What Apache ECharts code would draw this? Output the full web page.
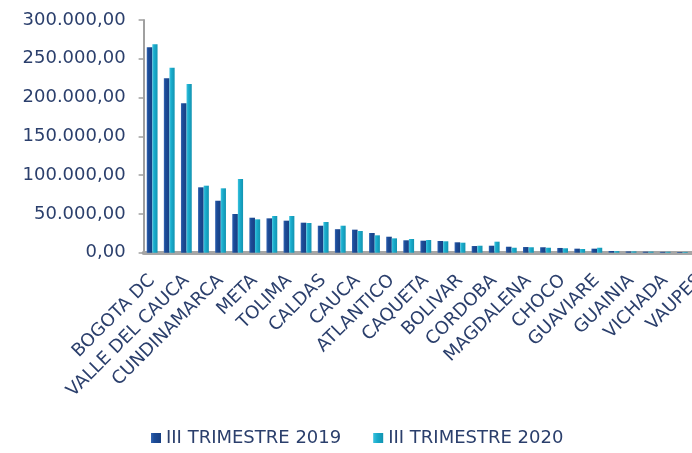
<!DOCTYPE html>
<html>
<head>
<meta charset="utf-8">
<script src="https://cdn.jsdelivr.net/npm/echarts@6/dist/echarts.min.js"></script>
<style>
  html, body { margin: 0; padding: 0; background: #fff; overflow: hidden; }
  /* el grafico original queda recortado a la derecha */
  #main { width: 708px; height: 453px; }
</style>
</head>
<body>
<div id="main"></div>
<script>
// departamentos (solo se rotula uno de cada dos)
var departamentos = ['BOGOTA DC', 'ANTIOQUIA', 'VALLE DEL CAUCA', 'SANTANDER', 'CUNDINAMARCA',
  'BOYACA', 'META', 'RISARALDA', 'TOLIMA', 'HUILA', 'CALDAS', 'NARIÑO', 'CAUCA',
  'NORTE DE SANTANDER', 'ATLANTICO', 'QUINDIO', 'CAQUETA', 'CASANARE', 'BOLIVAR',
  'CESAR', 'CORDOBA', 'SUCRE', 'MAGDALENA', 'LA GUAJIRA', 'CHOCO', 'PUTUMAYO',
  'GUAVIARE', 'ARAUCA', 'GUAINIA', 'AMAZONAS', 'VICHADA', 'SAN ANDRES', 'VAUPES'];

var trimestre2019 = [264800, 224800, 192600, 84300, 67000, 49900, 45100, 44300, 41300, 38700,
  34800, 30300, 29700, 25400, 20600, 16000, 15500, 15100, 13400, 8600, 9000, 7700, 7300,
  7000, 6100, 5200, 5200, 2200, 1600, 1300, 1100, 900, 600];

var trimestre2020 = [268600, 238500, 217500, 86400, 83000, 95000, 43000, 47300, 47300, 38300,
  39600, 34800, 28000, 22400, 18500, 17700, 16400, 14700, 12900, 9000, 14200, 6400, 7000,
  6400, 5700, 4800, 6400, 2000, 1700, 1400, 1200, 1000, 700];

var ejeY = [0, 50000, 100000, 150000, 200000, 250000, 300000];

var textColor = '#2b3f6c';

function fmt(v) {
  var s = String(Math.round(v)).replace(/\B(?=(\d{3})+(?!\d))/g, '.');
  return s + ',00';
}

var chart = echarts.init(document.getElementById('main'));

chart.setOption({
  animation: false,
  textStyle: { fontFamily: 'DejaVu Sans' },
  grid: { left: 143.6, right: 0, top: 20, bottom: 200.3 },
  legend: {
    left: 146,
    bottom: 1,
    itemWidth: 10,
    itemHeight: 10,
    itemGap: 32,
    icon: 'rect',
    textStyle: { color: textColor, fontSize: 18, fontFamily: 'DejaVu Sans' },
    data: ['III TRIMESTRE 2019', 'III TRIMESTRE 2020']
  },
  xAxis: {
    type: 'category',
    data: departamentos,
    axisLine: { lineStyle: { color: '#a6a6a6', width: 4 } },
    axisTick: { length: 6, lineStyle: { color: '#a0a0a0', width: 1.5 } },
    axisLabel: {
      interval: 1,
      rotate: 45,
      margin: 25,
      color: textColor,
      fontSize: 18,
      fontFamily: 'DejaVu Sans'
    }
  },
  yAxis: {
    type: 'value',
    min: ejeY[0],
    max: ejeY[ejeY.length - 1],
    interval: 50000,
    axisLine: { show: true, lineStyle: { color: '#a0a0a0', width: 2 } },
    axisTick: { show: true, length: 5, lineStyle: { color: '#a0a0a0', width: 1.5 } },
    splitLine: { show: false },
    axisLabel: {
      margin: 18,
      color: textColor,
      fontSize: 18,
      fontFamily: 'DejaVu Sans',
      formatter: fmt
    }
  },
  series: [{
    name: 'III TRIMESTRE 2019',
    type: 'bar',
    data: trimestre2019,
    barWidth: 5.6,
    barGap: '0%',
    itemStyle: {
      color: new echarts.graphic.LinearGradient(0, 0, 1, 0, [
        { offset: 0, color: '#3566b3' },
        { offset: 0.3, color: '#1c4c98' },
        { offset: 1, color: '#173f82' }
      ])
    }
  }, {
    name: 'III TRIMESTRE 2020',
    type: 'bar',
    data: trimestre2020,
    barWidth: 5.2,
    itemStyle: {
      color: new echarts.graphic.LinearGradient(0, 0, 1, 0, [
        { offset: 0, color: '#3cc2de' },
        { offset: 0.4, color: '#18abcb' },
        { offset: 1, color: '#1393b0' }
      ])
    }
  }],
  color: ['#1c4c98', '#18abcb']
});
</script>
</body>
</html>
